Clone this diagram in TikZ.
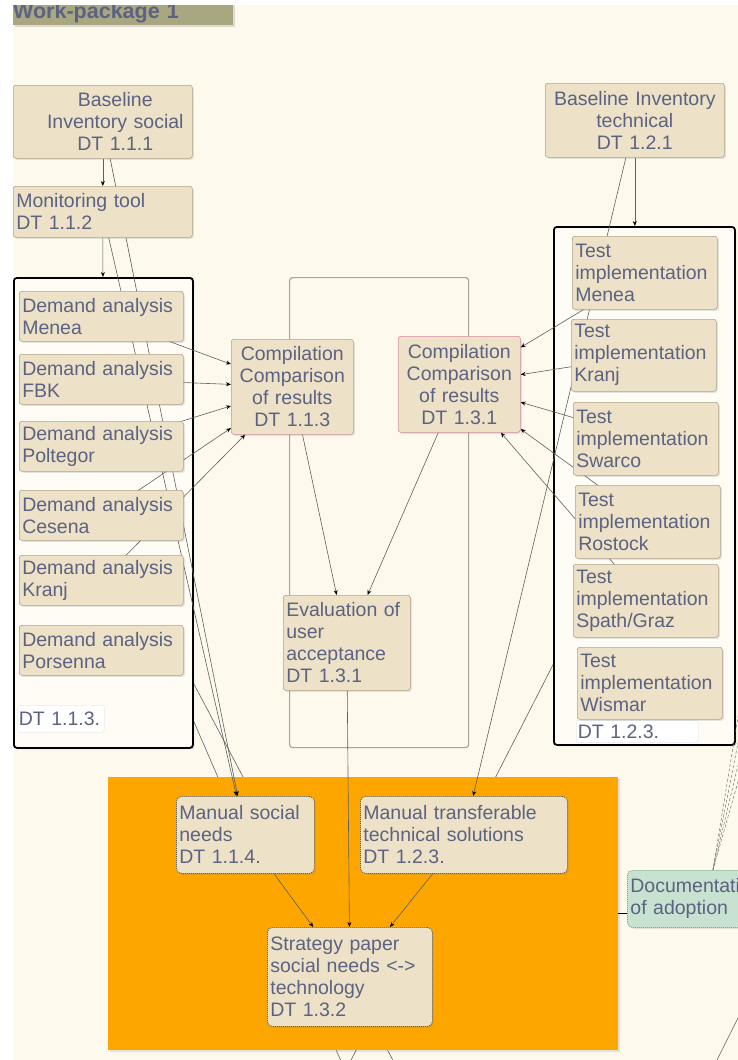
\documentclass[tikz,border=0pt]{standalone}
\usepackage{fontspec}
\setmainfont{Liberation Sans}
\usepackage{xcolor}
\usepackage{tikz}
\usetikzlibrary{arrows.meta,positioning,shadows,calc}
\definecolor{PaperCream} {RGB}{253,250,237}
\definecolor{TopicFill}  {RGB}{237,226,199}
\definecolor{TopicLine}  {RGB}{176,162,138}
\definecolor{TopicInk}   {RGB}{ 92, 98,130}
\definecolor{CompLine}   {RGB}{214,140,162}
\definecolor{GroupOrange}{RGB}{253,166,  0}
\definecolor{DocFill}    {RGB}{199,226,208}
\definecolor{DocLine}    {RGB}{118,165,135}
\definecolor{BannerOlive}{RGB}{168,167,129}
\definecolor{FrameGray}  {RGB}{168,163,152}
\definecolor{LinkGray}   {RGB}{ 95, 95, 95}

\pgfdeclarelayer{paper}
\pgfdeclarelayer{under}
\pgfdeclarelayer{groups}
\pgfdeclarelayer{links}
\pgfsetlayers{paper,under,groups,links,main}

\tikzset{
  plainbox/.style={draw=TopicLine, fill=TopicFill, line width=0.6pt, rounded corners=2.5pt,
    text=TopicInk, font=\fontsize{19.5}{22}\selectfont, align=left,
    inner xsep=3pt, inner ysep=1pt, anchor=north west},
  topic/.style={plainbox, drop shadow={shadow xshift=1.5pt, shadow yshift=-1.5pt, opacity=0.2}},
  compare/.style={topic, draw=CompLine, align=center},
  manual/.style={topic, draw=black!65, line width=0.8pt, dash pattern=on 1pt off 1pt, rounded corners=5pt},
  tag/.style={plainbox, fill=white, draw=black!8, inner xsep=1.5pt},
  docnote/.style={topic, fill=DocFill, draw=DocLine, line width=0.8pt, dash pattern=on 1pt off 1pt, rounded corners=5pt},
  group/.style={draw=black, line width=1.8pt, fill=PaperCream!60!white, rounded corners=3pt,
    anchor=north west, inner sep=0pt, drop shadow={shadow xshift=1.5pt, shadow yshift=-1.5pt, opacity=0.2}},
  frame/.style={draw=FrameGray, line width=1.2pt, fill=PaperCream, rounded corners=3pt,
    anchor=north west, inner sep=0pt},
  orangebox/.style={fill=GroupOrange, anchor=north west, inner sep=0pt,
    drop shadow={shadow xshift=1.5pt, shadow yshift=-1.5pt, opacity=0.2}},
  link/.style={draw=LinkGray, line width=0.6pt, -{Stealth[length=5pt,width=4pt,color=black]}},
  thru/.style={draw=LinkGray, line width=0.6pt},
}

\begin{document}
\begin{tikzpicture}[x=1pt, y=-1pt]
\useasboundingbox (0,0) rectangle (738,1060);
\begin{pgfonlayer}{paper}
  \fill[white] (0,0) rectangle (738,1060);
  \fill[PaperCream] (13,5) rectangle (738,1060);
\end{pgfonlayer}

% group frames
\begin{pgfonlayer}{groups}
  \node[group, minimum width=179pt, minimum height=470pt] (grp1) at (13,277) {};
  \node[frame, minimum width=179pt, minimum height=470pt] (mid) at (289,277) {};
  \node[group, minimum width=181pt, minimum height=518pt] (grp2) at (553,226) {};
  \node[orangebox, minimum width=510pt, minimum height=273pt] (grp3) at (108,777) {};
\end{pgfonlayer}

\node[fill=BannerOlive, anchor=north west, minimum height=25pt, inner sep=0pt, text width=220pt,
  text=TopicInk, font=\bfseries\fontsize{21.5}{24}\selectfont,
  drop shadow={shadow xshift=1.5pt, shadow yshift=-1.5pt, opacity=0.25}] (wp) at (13,0) {Work-package 1};

% social side
\node[topic, text width=173pt, minimum height=73pt, align=center] (bsoc) at (13,85)
  {\hspace*{25pt}Baseline\\\hspace*{25pt}Inventory social\\\hspace*{25pt}DT 1.1.1};
\node[topic, text width=173pt, minimum height=51pt] (mon) at (13,186) {Monitoring tool\\DT 1.1.2};
\node[topic, text width=158pt, minimum height=50pt] (dmen) at (19,291) {Demand analysis\\Menea};
\node[topic, text width=158pt, minimum height=50pt] (dfbk) at (19,354) {Demand analysis\\FBK};
\node[topic, text width=158pt, minimum height=50pt] (dpol) at (19,421) {Demand analysis\\Poltegor};
\node[topic, text width=158pt, minimum height=50pt] (dces) at (19,490) {Demand analysis\\Cesena};
\node[topic, text width=158pt, minimum height=50pt] (dkra) at (19,555) {Demand analysis\\Kranj};
\node[topic, text width=158pt, minimum height=50pt] (dpor) at (19,625) {Demand analysis\\Porsenna};
\node[tag, text width=84pt, minimum height=27pt] (tag113) at (17,705) {\mbox{DT 1.1.3.}};

% middle
\node[compare, text width=116pt, minimum height=95pt] (comp1) at (231,339) {Compilation\\Comparison\\of results\\DT 1.1.3};
\node[compare, text width=116pt, minimum height=96pt] (comp2) at (398,336) {Compilation\\Comparison\\of results\\DT 1.3.1};
\node[topic, text width=121pt, minimum height=95pt] (eval) at (283,595) {Evaluation of\\user\\acceptance\\DT 1.3.1};

% technical side
\node[topic, text width=173pt, minimum height=74pt, align=center] (btech) at (545,83) {Baseline Inventory\\technical\\DT 1.2.1};
\node[tag, text width=119pt, minimum height=22pt] (tag123) at (576,720) {\mbox{DT 1.2.3.}};
\node[topic, text width=139pt, minimum height=73pt] (tmen) at (572,236) {Test\\implementation\\Menea};
\node[topic, text width=139pt, minimum height=72pt] (tkra) at (571,319) {Test\\implementation\\Kranj};
\node[topic, text width=139pt, minimum height=73pt] (tswa) at (573,402) {Test\\implementation\\Swarco};
\node[topic, text width=139pt, minimum height=73pt] (tros) at (575,485) {Test\\implementation\\Rostock};
\node[topic, text width=139pt, minimum height=73pt] (tspa) at (573,564) {Test\\implementation\\Spath/Graz};
\node[topic, text width=139pt, minimum height=72pt] (twis) at (577,647) {Test\\implementation\\Wismar};

% outputs
\node[manual, text width=132pt, minimum height=77pt] (msoc) at (176,796) {Manual social\\needs\\DT 1.1.4.};
\node[manual, text width=201pt, minimum height=77pt] (mtech) at (360,796) {Manual transferable\\technical solutions\\DT 1.2.3.};
\node[manual, text width=159pt, minimum height=99pt] (strat) at (267,927) {Strategy paper\\social needs <->\\technology\\DT 1.3.2};
\node[docnote, text width=133pt, minimum height=57pt] (doc) at (627,870) {Documentation\\of adoption};

% lines running under the groups
\begin{pgfonlayer}{under}
  \coordinate (exit1) at (397,1068);
  \coordinate (exit2) at (344,1068);
  \coordinate (exit3) at (347,1068);
  \draw[thru] (grp1.center) -- (exit1);
  \draw[thru] (grp1.center) -- (exit2);
  \draw[thru] (grp2.center) -- (exit3);
\end{pgfonlayer}

\begin{pgfonlayer}{links}
  \draw[link] (bsoc) -- (mon);
  \draw[link] (mon) -- (grp1);
  \draw[link] (bsoc.center) -- (msoc);
  \draw[link] (mon.center) -- (msoc);
  \foreach \d in {dmen,dfbk,dpol,dces,dkra}
    \draw[link] (\d.center) -- (comp1);
  \foreach \t in {tmen,tkra,tswa,tros,tspa}
    \draw[link] (\t.center) -- (comp2);
  \draw[link] (comp1.center) -- (eval);
  \draw[link] (comp2.center) -- (eval);
  \draw[link] (btech.south) -- (btech.south |- grp2.north);
  \draw[link] (btech.center) -- (mtech);
  \draw[link] (eval.center) -- (strat);
  \draw[link] (msoc.center) -- (strat);
  \draw[link] (mtech.center) -- (strat);
  \draw[thru, black] (grp3.east) -- (doc.west |- grp3.east);
  % lines into the documentation node from outside
  \coordinate (docin) at ([xshift=16pt]doc.north);
  \coordinate (far1) at (744,680);
  \coordinate (far2) at (750,682);
  \coordinate (far3) at (757,686);
  \coordinate (far4) at (764,690);
  \foreach \f in {far1,far2,far3,far4}
    \draw[thru, densely dashed, line width=0.4pt] (\f) -- (docin);
  \coordinate (far5) at (760,974);
  \coordinate (far6) at (698,1098);
  \draw[thru] (far5) -- (far6);
\end{pgfonlayer}

% page margins
\fill[white] (0,0) rectangle (13,1060);
\fill[white] (0,0) rectangle (738,5);
\end{tikzpicture}
\end{document}
